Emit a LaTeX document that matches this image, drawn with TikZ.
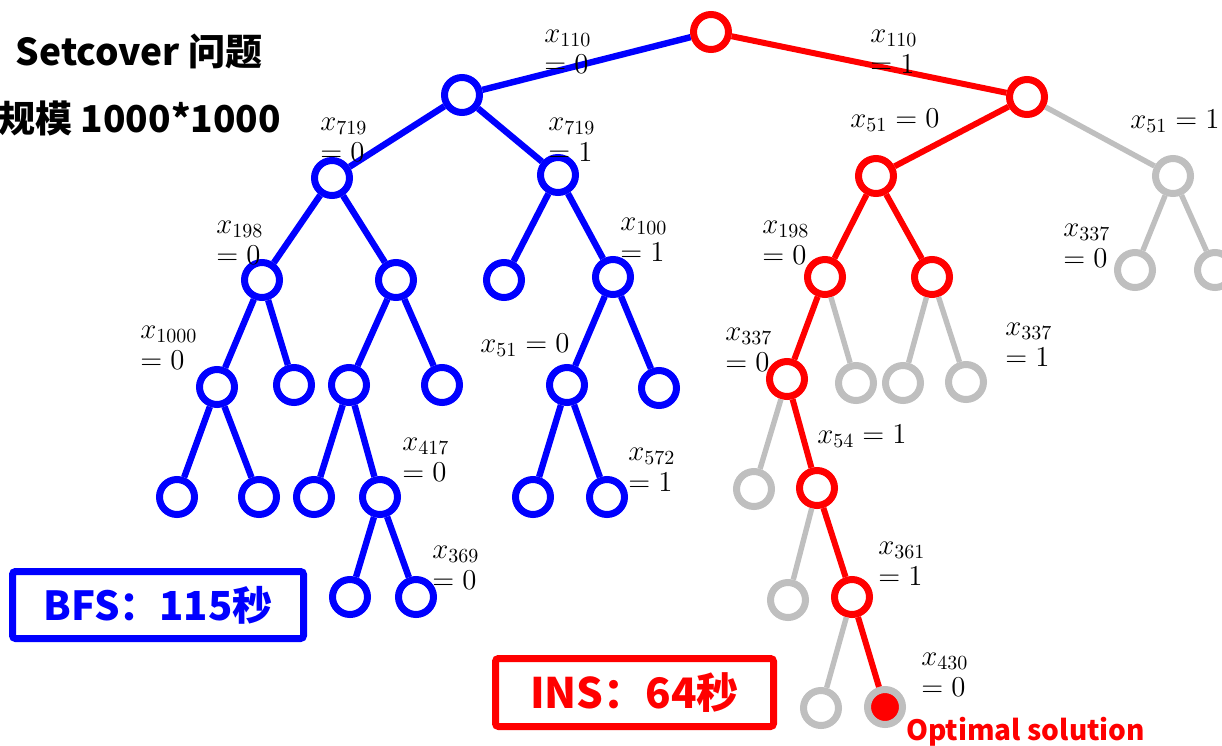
\documentclass[tikz,border=0pt]{standalone}
\usepackage{fontspec}
\usepackage{amsmath}
\usepackage{xcolor}
\usepackage{tikz}
\newfontfamily\cjk{Noto Sans CJK SC}
\definecolor{bfsblue}{RGB}{0,0,255}
\definecolor{insred}{RGB}{255,0,0}
\definecolor{cutgray}{RGB}{191,191,191}
\newcommand{\vlab}[2]{\begin{tabular}[t]{@{}l@{}}$#1$\\$#2$\end{tabular}}

\begin{document}
\begin{tikzpicture}[x=0.5pt,y=-0.5pt,
		bnode/.style={circle,draw=bfsblue,fill=white,line width=3.5pt,minimum size=17.5pt,inner sep=0pt},
		rnode/.style={bnode,draw=insred},
		gnode/.style={bnode,draw=cutgray},
		bedge/.style={draw=bfsblue,line width=3.2pt},
		redge/.style={draw=insred,line width=3pt},
		gedge/.style={draw=cutgray,line width=2.7pt},
		lab/.style={anchor=base west,inner sep=0pt,font=\fontsize{14}{15.5}\selectfont},
		title/.style={anchor=base,inner sep=0pt,font=\cjk\bfseries\fontsize{18.5}{22}\selectfont}]
		\clip (0,0) rectangle (1222,745);

		% titles
		\node[title] (prob) at (139,65) {Setcover 问题};
		\node[title,anchor=base west] (size) at (-2,132) {规模 1000*1000};

		% root
		\node[rnode] (root) at (711,32) {};

		% BFS side
		\node[bnode] (b) at (462,95) {};
		\node[bnode] (b1) at (332,178) {};
		\node[bnode] (b2) at (558,175) {};
		\node[bnode] (b11) at (262,280) {};
		\node[bnode] (b12) at (396,280) {};
		\node[bnode] (b21) at (504,280) {};
		\node[bnode] (b22) at (613,277) {};
		\node[bnode] (b111) at (217,387) {};
		\node[bnode] (b112) at (294,385) {};
		\node[bnode] (b121) at (349,385) {};
		\node[bnode] (b122) at (442,385) {};
		\node[bnode] (b221) at (567,385) {};
		\node[bnode] (b222) at (659,388) {};
		\node[bnode] (b1111) at (177,497) {};
		\node[bnode] (b1112) at (259,497) {};
		\node[bnode] (b1211) at (314,497) {};
		\node[bnode] (b1212) at (380,497) {};
		\node[bnode] (b2211) at (533,497) {};
		\node[bnode] (b2212) at (607,497) {};
		\node[bnode] (b12121) at (350,597) {};
		\node[bnode] (b12122) at (416,597) {};

		\draw[bedge] (root) -- (b);
		\draw[bedge] (b) -- (b1);
		\draw[bedge] (b) -- (b2);
		\draw[bedge] (b1) -- (b11);
		\draw[bedge] (b1) -- (b12);
		\draw[bedge] (b2) -- (b21);
		\draw[bedge] (b2) -- (b22);
		\draw[bedge] (b11) -- (b111);
		\draw[bedge] (b11) -- (b112);
		\draw[bedge] (b12) -- (b121);
		\draw[bedge] (b12) -- (b122);
		\draw[bedge] (b22) -- (b221);
		\draw[bedge] (b22) -- (b222);
		\draw[bedge] (b111) -- (b1111);
		\draw[bedge] (b111) -- (b1112);
		\draw[bedge] (b121) -- (b1211);
		\draw[bedge] (b121) -- (b1212);
		\draw[bedge] (b221) -- (b2211);
		\draw[bedge] (b221) -- (b2212);
		\draw[bedge] (b1212) -- (b12121);
		\draw[bedge] (b1212) -- (b12122);

		% INS side
		\node[rnode] (r) at (1027,97) {};
		\node[rnode] (r1) at (876,176) {};
		\node[gnode] (r2) at (1173,176) {};
		\node[rnode] (r11) at (825,277) {};
		\node[rnode] (r12) at (932,277) {};
		\node[gnode] (r21) at (1135,270) {};
		\node[gnode] (r22) at (1215,270) {};
		\node[rnode] (r111) at (787,379) {};
		\node[gnode] (r112) at (856,383) {};
		\node[gnode] (r121) at (903,383) {};
		\node[gnode] (r122) at (966,382) {};
		\node[gnode] (r1111) at (754,489) {};
		\node[rnode] (r1112) at (817,488) {};
		\node[gnode] (r11121) at (788,600) {};
		\node[rnode] (r11122) at (852,597) {};
		\node[gnode] (r111221) at (821,708) {};
		\node[gnode,fill=insred] (best) at (885,707) {};

		\draw[redge] (root) -- (r);
		\draw[redge] (r) -- (r1);
		\draw[gedge] (r) -- (r2);
		\draw[gedge] (r2) -- (r21);
		\draw[gedge] (r2) -- (r22);
		\draw[redge] (r1) -- (r11);
		\draw[redge] (r1) -- (r12);
		\draw[redge] (r11) -- (r111);
		\draw[gedge] (r11) -- (r112);
		\draw[gedge] (r12) -- (r121);
		\draw[gedge] (r12) -- (r122);
		\draw[gedge] (r111) -- (r1111);
		\draw[redge] (r111) -- (r1112);
		\draw[gedge] (r1112) -- (r11121);
		\draw[redge] (r1112) -- (r11122);
		\draw[gedge] (r11122) -- (r111221);
		\draw[redge] (r11122) -- (best);

		% branching labels
		\node[lab] (l110a) at (544,42) {\vlab{x_{110}}{= 0}};
		\node[lab] (l110b) at (870,42) {\vlab{x_{110}}{= 1}};
		\node[lab] (l719a) at (320,130) {\vlab{x_{719}}{= 0}};
		\node[lab] (l719b) at (548,130) {\vlab{x_{719}}{= 1}};
		\node[lab] (l198a) at (216,233) {\vlab{x_{198}}{= 0}};
		\node[lab] (l100) at (620,230) {\vlab{x_{100}}{= 1}};
		\node[lab] (l1000) at (140,338) {\vlab{x_{1000}}{= 0}};
		\node[lab] (l51a) at (480,352) {$x_{51} = 0$};
		\node[lab] (l417) at (402,450) {\vlab{x_{417}}{= 0}};
		\node[lab] (l572) at (628,460) {\vlab{x_{572}}{= 1}};
		\node[lab] (l369) at (432,558) {\vlab{x_{369}}{= 0}};
		\node[lab] (l51b) at (850,127) {$x_{51} = 0$};
		\node[lab] (l51c) at (1130,128) {$x_{51} = 1$};
		\node[lab] (l198b) at (762,233) {\vlab{x_{198}}{= 0}};
		\node[lab] (l337a) at (1063,236) {\vlab{x_{337}}{= 0}};
		\node[lab] (l337b) at (725,340) {\vlab{x_{337}}{= 0}};
		\node[lab] (l337c) at (1005,335) {\vlab{x_{337}}{= 1}};
		\node[lab] (l54) at (817,443) {$x_{54} = 1$};
		\node[lab] (l361) at (878,554) {\vlab{x_{361}}{= 1}};
		\node[lab] (l430) at (921,665) {\vlab{x_{430}}{= 0}};

		% timings
		\node[draw=bfsblue,line width=3.5pt,rounded corners=1.5pt,minimum width=145.5pt,minimum height=33.5pt,
			text=bfsblue,font=\cjk\bfseries\fontsize{20}{24}\selectfont] (bfs) at (158,605) {BFS：115秒};
		\node[draw=insred,line width=3.5pt,rounded corners=1.5pt,minimum width=139pt,minimum height=34pt,
			text=insred,font=\cjk\bfseries\fontsize{21}{25}\selectfont] (ins) at (634.5,692.5) {INS：64秒};
		\node[anchor=base west,inner sep=0pt,text=insred,font=\cjk\bfseries\fontsize{14}{17}\selectfont] (opt) at (906,740) {Optimal solution};
	\end{tikzpicture}
\end{document}
